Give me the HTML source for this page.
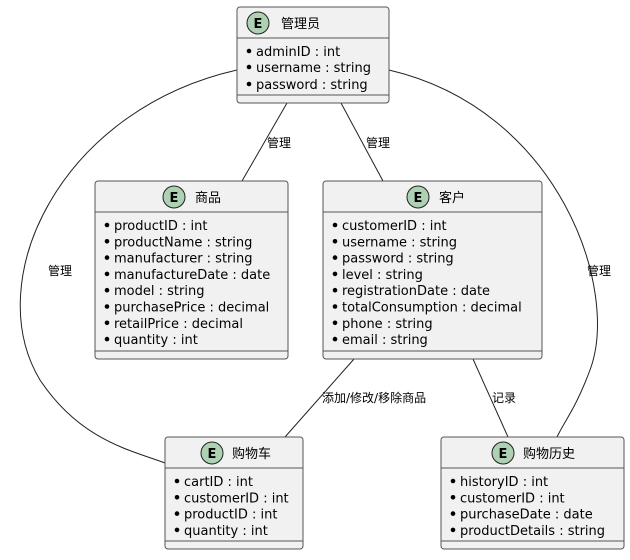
<!DOCTYPE html>
<html><head><meta charset="utf-8">
<style>
html,body{margin:0;padding:0;background:#fff;}
svg text{font-family:"DejaVu Sans","Liberation Sans","Noto Sans CJK SC",sans-serif;fill:#000;}
.t{font-size:13px;}
.l{font-size:12px;}
.ttl{font-size:13px;}
.box{fill:#F1F1F1;stroke:#555;stroke-width:1;}
.sep{stroke:#555;stroke-width:1;}
.e{stroke:#222;stroke-width:1;fill:none;}
.c{fill:#ADD1B2;stroke:#222;stroke-width:1;}
</style></head>
<body>
<svg width="630" height="555" viewBox="0 0 630 555" xmlns="http://www.w3.org/2000/svg">
<!-- edges -->
<path class="e" d="M287,103 L242,181"/>
<path class="e" d="M341,103 L383,181"/>
<path class="e" d="M237,70 C60,110 -20,280 40,380 C80,440 130,450 165,463"/>
<path class="e" d="M389,70 C560,110 620,290 590,370 C575,410 565,420 557,437"/>
<path class="e" d="M354,359 L285,437"/>
<path class="e" d="M473,359 L508,437"/>
<text class="l" x="267" y="147">管理</text>
<text class="l" x="366" y="147">管理</text>
<text class="l" x="48" y="275">管理</text>
<text class="l" x="587" y="275">管理</text>
<text class="l" x="322" y="402">添加/修改/移除商品</text>
<text class="l" x="492" y="402">记录</text>

<!-- 管理员 -->
<rect class="box" x="237" y="7" width="152" height="96" rx="3"/>
<circle class="c" cx="258" cy="23" r="11"/><text x="258" y="28" text-anchor="middle" style="font-size:13px;font-weight:bold">E</text>
<text class="ttl" x="281" y="28">管理员</text>
<line class="sep" x1="237" y1="38" x2="389" y2="38"/>
<g class="t">
<circle cx="249" cy="51" r="2.3"/><text x="256" y="56">adminID : int</text>
<circle cx="249" cy="67" r="2.3"/><text x="256" y="72">username : string</text>
<circle cx="249" cy="84" r="2.3"/><text x="256" y="89">password : string</text>
</g>
<line class="sep" x1="237" y1="95" x2="389" y2="95"/>

<!-- 商品 -->
<rect class="box" x="95" y="181" width="193" height="178" rx="3"/>
<circle class="c" cx="174" cy="197" r="11"/><text x="174" y="202" text-anchor="middle" style="font-size:13px;font-weight:bold">E</text>
<text class="ttl" x="195" y="202">商品</text>
<line class="sep" x1="95" y1="212" x2="288" y2="212"/>
<g class="t">
<circle cx="107" cy="225" r="2.3"/><text x="114" y="230">productID : int</text>
<circle cx="107" cy="241.3" r="2.3"/><text x="114" y="246.3">productName : string</text>
<circle cx="107" cy="257.6" r="2.3"/><text x="114" y="262.6">manufacturer : string</text>
<circle cx="107" cy="273.9" r="2.3"/><text x="114" y="278.9">manufactureDate : date</text>
<circle cx="107" cy="290.2" r="2.3"/><text x="114" y="295.2">model : string</text>
<circle cx="107" cy="306.5" r="2.3"/><text x="114" y="311.5">purchasePrice : decimal</text>
<circle cx="107" cy="322.8" r="2.3"/><text x="114" y="327.8">retailPrice : decimal</text>
<circle cx="107" cy="339.1" r="2.3"/><text x="114" y="344.1">quantity : int</text>
</g>
<line class="sep" x1="95" y1="351" x2="288" y2="351"/>

<!-- 客户 -->
<rect class="box" x="323" y="181" width="219" height="178" rx="3"/>
<circle class="c" cx="418" cy="197" r="11"/><text x="418" y="202" text-anchor="middle" style="font-size:13px;font-weight:bold">E</text>
<text class="ttl" x="439" y="202">客户</text>
<line class="sep" x1="323" y1="212" x2="542" y2="212"/>
<g class="t">
<circle cx="335" cy="225" r="2.3"/><text x="342" y="230">customerID : int</text>
<circle cx="335" cy="241.3" r="2.3"/><text x="342" y="246.3">username : string</text>
<circle cx="335" cy="257.6" r="2.3"/><text x="342" y="262.6">password : string</text>
<circle cx="335" cy="273.9" r="2.3"/><text x="342" y="278.9">level : string</text>
<circle cx="335" cy="290.2" r="2.3"/><text x="342" y="295.2">registrationDate : date</text>
<circle cx="335" cy="306.5" r="2.3"/><text x="342" y="311.5">totalConsumption : decimal</text>
<circle cx="335" cy="322.8" r="2.3"/><text x="342" y="327.8">phone : string</text>
<circle cx="335" cy="339.1" r="2.3"/><text x="342" y="344.1">email : string</text>
</g>
<line class="sep" x1="323" y1="351" x2="542" y2="351"/>

<!-- 购物车 -->
<rect class="box" x="165" y="437" width="138" height="112" rx="3"/>
<circle class="c" cx="212" cy="453" r="11"/><text x="212" y="458" text-anchor="middle" style="font-size:13px;font-weight:bold">E</text>
<text class="ttl" x="232" y="458">购物车</text>
<line class="sep" x1="165" y1="468" x2="303" y2="468"/>
<g class="t">
<circle cx="177" cy="481" r="2.3"/><text x="184" y="486">cartID : int</text>
<circle cx="177" cy="497.3" r="2.3"/><text x="184" y="502.3">customerID : int</text>
<circle cx="177" cy="513.6" r="2.3"/><text x="184" y="518.6">productID : int</text>
<circle cx="177" cy="529.9" r="2.3"/><text x="184" y="534.9">quantity : int</text>
</g>
<line class="sep" x1="165" y1="541" x2="303" y2="541"/>

<!-- 购物历史 -->
<rect class="box" x="441" y="437" width="183" height="112" rx="3"/>
<circle class="c" cx="503" cy="453" r="11"/><text x="503" y="458" text-anchor="middle" style="font-size:13px;font-weight:bold">E</text>
<text class="ttl" x="523" y="458">购物历史</text>
<line class="sep" x1="441" y1="468" x2="624" y2="468"/>
<g class="t">
<circle cx="453" cy="481" r="2.3"/><text x="460" y="486">historyID : int</text>
<circle cx="453" cy="497.3" r="2.3"/><text x="460" y="502.3">customerID : int</text>
<circle cx="453" cy="513.6" r="2.3"/><text x="460" y="518.6">purchaseDate : date</text>
<circle cx="453" cy="529.9" r="2.3"/><text x="460" y="534.9">productDetails : string</text>
</g>
<line class="sep" x1="441" y1="541" x2="624" y2="541"/>
</svg>
</body></html>
